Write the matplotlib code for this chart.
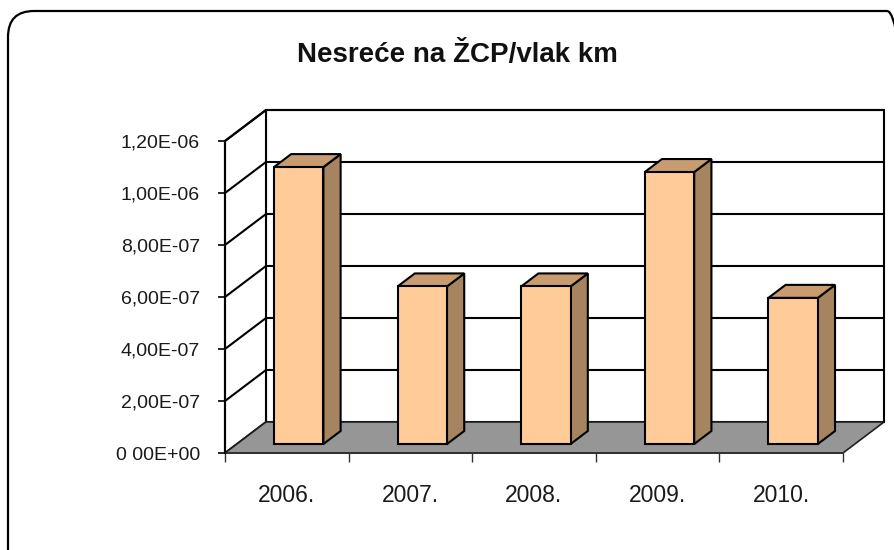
import matplotlib
matplotlib.use("Agg")
import matplotlib.pyplot as plt
from matplotlib.patches import Polygon, FancyBboxPatch
from matplotlib.ticker import FixedLocator

# ---- data ----
categories = ["2006.", "2007.", "2008.", "2009.", "2010."]
values = [1.065e-6, 6.06e-7, 6.06e-7, 1.046e-6, 5.62e-7]
ytick_values = [0, 2e-7, 4e-7, 6e-7, 8e-7, 1.0e-6, 1.2e-6]
ytick_labels = ["0 00E+00", "2,00E-07", "4,00E-07", "6,00E-07",
                "8,00E-07", "1,00E-06", "1,20E-06"]
title = "Nesreće na ŽCP/vlak km"

# ---- style ----
FRONT = "#FFCC99"
SIDE = "#A68460"
TOP = "#C89C70"
FLOOR = "#969696"
LW = 1.5

plt.rcParams['font.family'] = ['Liberation Sans', 'DejaVu Sans']

W, H = 895, 550
fig = plt.figure(figsize=(W / 100, H / 100), dpi=100)

# chart-area border (rounded), in inches
border = FancyBboxPatch((0.08, -0.3), 9.13 - 0.08, 5.39 + 0.3,
                        boxstyle="round,pad=0,rounding_size=0.26",
                        transform=fig.dpi_scale_trans, facecolor="none",
                        edgecolor="black", linewidth=1.6, zorder=-1)
fig.patches.append(border)

ax_l, ax_b = 225 / W, (H - 453) / H
ax_w, ax_h = 618 / W, 312 / H
ax = fig.add_axes([ax_l, ax_b, ax_w, ax_h])
ax.patch.set_visible(False)

n = len(categories)
ymax = ytick_values[-1]
ax.set_xlim(0, n)
ax.set_ylim(0, ymax)

# depth vector in data units (41 px right, 31 px up)
DX = n * 41 / 618
DY = ymax * 31 / 312

# back wall
ax.add_patch(Polygon([(DX, DY), (n + DX, DY), (n + DX, ymax + DY), (DX, ymax + DY)],
                     closed=True, facecolor="white", edgecolor="black",
                     linewidth=LW, zorder=1, clip_on=False))
# left wall
ax.add_patch(Polygon([(0, 0), (DX, DY), (DX, ymax + DY), (0, ymax)],
                     closed=True, facecolor="white", edgecolor="black",
                     linewidth=LW, zorder=1, clip_on=False))
# gridlines on walls
for yv in ytick_values[1:]:
    ax.plot([0, DX, n + DX], [yv, yv + DY, yv + DY], color="black",
            linewidth=LW, zorder=1.5, clip_on=False, solid_capstyle="butt")
# floor
ax.add_patch(Polygon([(0, 0), (n, 0), (n + DX, DY), (DX, DY)],
                     closed=True, facecolor=FLOOR, edgecolor="#202020",
                     linewidth=1.2, zorder=2, clip_on=False))

# bars
f0, f1 = 0.29, 0.71
bw = 0.40
xs = [i + 0.5 + f0 * DX for i in range(n)]
base = f0 * DY
ddx, ddy = (f1 - f0) * DX, (f1 - f0) * DY
bars = ax.bar(xs, values, width=bw, bottom=base, color=FRONT,
              edgecolor="black", linewidth=LW, zorder=4, clip_on=False)
for x, v in zip(xs, values):
    xl, xr = x - bw / 2, x + bw / 2
    top = base + v
    ax.add_patch(Polygon([(xr, base), (xr, top), (xr + ddx, top + ddy), (xr + ddx, base + ddy)],
                         closed=True, facecolor=SIDE, edgecolor="black",
                         linewidth=LW, zorder=3, clip_on=False, joinstyle="miter"))
    ax.add_patch(Polygon([(xl, top), (xr, top), (xr + ddx, top + ddy), (xl + ddx, top + ddy)],
                         closed=True, facecolor=TOP, edgecolor="black",
                         linewidth=LW, zorder=3, clip_on=False, joinstyle="miter"))

# axes / ticks
for s in ["top", "right"]:
    ax.spines[s].set_visible(False)
ax.spines["left"].set_linewidth(LW)
ax.spines["bottom"].set_linewidth(1.2)
ax.spines["bottom"].set_color("#303030")
ax.spines["left"].set_zorder(5)

ax.set_yticks(ytick_values)
ax.set_yticklabels(ytick_labels)
ax.tick_params(axis="y", length=5, width=1.2, pad=13, labelsize=14,
               labelcolor="#1a1a1a")

ax.xaxis.set_major_locator(FixedLocator(list(range(n + 1))))
ax.xaxis.set_minor_locator(FixedLocator([i + 0.5 for i in range(n)]))
ax.set_xticklabels([""] * (n + 1))
ax.set_xticklabels(categories, minor=True)
ax.tick_params(axis="x", which="major", length=6.5, width=1.0, color="#303030")
ax.tick_params(axis="x", which="minor", length=0, pad=22, labelsize=16.5,
               labelcolor="#1a1a1a")

fig.text(457 / W, 1 - 62 / H, title, ha="center", va="baseline",
         fontsize=20, fontweight="bold", color="#111111")

fig.savefig("out.png", dpi=100)
